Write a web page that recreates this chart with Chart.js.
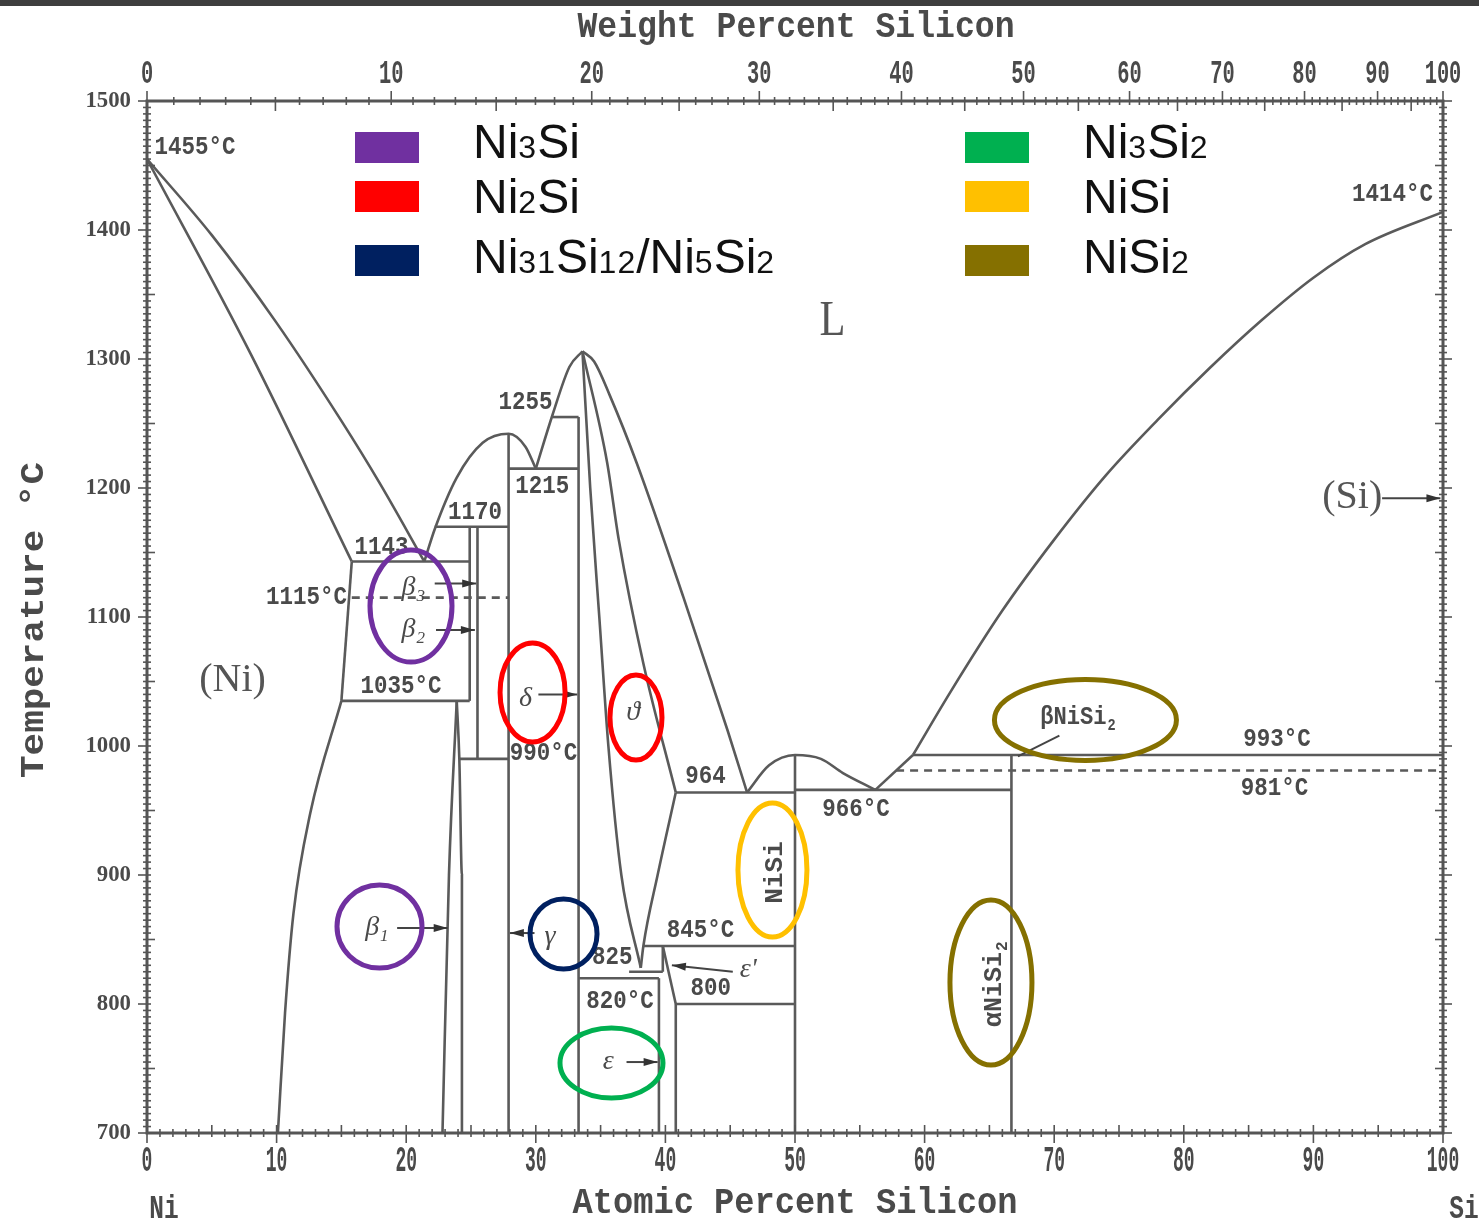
<!DOCTYPE html>
<html>
<head>
<meta charset="utf-8">
<title>Ni-Si phase diagram</title>
<script src="https://cdn.jsdelivr.net/npm/chart.js@4.4.1/dist/chart.umd.min.js"></script>
<style>
  html, body { margin: 0; padding: 0; background: #fff; }
  #wrap { width: 1479px; height: 1224px; }
</style>
</head>
<body>
<div id="wrap"><canvas id="phaseChart" width="1479" height="1224"></canvas></div>
<script>
// tick values
const AT_TICKS = [0, 10, 20, 30, 40, 50, 60, 70, 80, 90, 100];
const WT_TICKS = [0, 10, 20, 30, 40, 50, 60, 70, 80, 90, 100];
const T_TICKS = [700, 800, 900, 1000, 1100, 1200, 1300, 1400, 1500];

// phase boundaries, [at% Si, temperature C]
const liqNiSide = [[0, 1455], [5, 1396], [10, 1328], [15, 1252], [18, 1203], [21.4, 1143]];
const solNiSide = [[0, 1455], [8, 1304], [15.8, 1143]];
const solvusNiHigh = [[15.8, 1143], [15.0, 1035]];
const solvusNi = [[15.0, 1035], [12.6, 948], [11.3, 870], [10.65, 793], [10.1, 700]];
const liqGamma = [[21.4, 1143], [22.2, 1168], [23.9, 1208], [25.9, 1235], [27.9, 1242], [29.2, 1232], [30.0, 1215]];
const liqDeltaLeft = [[30.0, 1215], [31.3, 1257], [32.6, 1294], [33.6, 1306]];
const liqThetaRight = [[33.6, 1306], [34.5, 1298], [35.7, 1272], [37.8, 1219], [41.4, 1115], [44.8, 1012], [46.3, 964]];
const thetaLeft = [[33.6, 1306], [34.2, 1200], [34.9, 1100], [35.6, 1000], [36.6, 900], [38.1, 828]];
const thetaRightHigh = [[33.6, 1306], [35.5, 1220], [36.4, 1160], [38.3, 1064], [40.8, 964]];
const thetaRightLow = [[40.8, 964], [39.4, 900], [38.3, 845], [38.1, 828]];
const liqNiSi = [[46.3, 964], [48, 985], [50, 993], [52, 990], [53.7, 979], [56.2, 966]];
const liqNiSi2 = [[56.2, 966], [59.1, 993]];
const liqSi = [[59.1, 993], [62, 1042], [66, 1105], [70, 1160], [74, 1210], [78, 1253], [82, 1293], [86, 1330], [90, 1363], [94, 1389], [100, 1414]];
const beta1Left = [[22.8, 700], [23.3, 900], [23.9, 1035]];
const beta1Right = [[24.3, 700], [24.3, 900], [24.1, 990], [23.9, 1035]];
const epsPrimeEdge = [[39.8, 845], [40.8, 800]];

// isotherms [from at%, to at%, T]
const isotherms = [
  [15.8, 24.9, 1143], [22.2, 27.9, 1170], [15.0, 24.9, 1035], [24.1, 27.9, 990],
  [27.9, 33.3, 1215], [31.3, 33.3, 1255], [33.3, 39.5, 820], [37.2, 39.8, 825],
  [38.3, 50, 845], [40.8, 50, 800], [40.8, 50, 964], [50, 66.7, 966], [59.1, 100, 993]
];
const dashedIsotherms = [[15.8, 27.9, 1115], [57.8, 100, 981]];
// vertical phase lines [at%, T low, T high]
const phaseLines = [
  [24.9, 1035, 1170], [25.5, 990, 1170], [27.9, 700, 1242], [33.3, 700, 1255],
  [39.5, 700, 820], [39.8, 825, 845], [40.8, 700, 800], [50, 700, 993], [66.7, 700, 993]
];

const LEGEND_NAMES = ['Ni3Si', 'Ni2Si', 'Ni31Si12/Ni5Si2', 'Ni3Si2', 'NiSi', 'NiSi2'];
const LEGEND_COLORS = ['#7030a0', '#ff0000', '#002060', '#00b050', '#ffc000', '#857000'];

const NUM_LABELS = [
  ['1455°C', 3.7, 1464], ['1414°C', 96.1, 1427], ['1255', 29.2, 1266], ['1215', 30.5, 1201],
  ['1170', 25.3, 1181], ['1143', 18.1, 1154], ['1115°C', 12.3, 1115], ['1035°C', 19.6, 1046],
  ['990°C', 30.6, 994], ['964', 43.1, 976], ['966°C', 54.7, 951], ['993°C', 87.2, 1005],
  ['981°C', 87.0, 967], ['845°C', 42.7, 857], ['825', 35.9, 836], ['820°C', 36.5, 802], ['800', 43.5, 812]
];
const PHASE_LABELS = [
  ['β', '3', 20.5, 1123], ['β', '2', 20.5, 1090], ['β', '1', 17.7, 859], ['γ', '', 31.1, 852],
  ['δ', '', 29.2, 1037], ['ϑ', '', 37.5, 1026], ['ε', '', 35.6, 755], ["ε'", '', 46.4, 827]
];
const ARROWS = [
  [22.2, 1126, 25.4, 1126], [22.3, 1090, 25.3, 1090], [19.3, 859, 23.2, 859], [29.9, 855, 28.0, 855],
  [30.2, 1040, 33.2, 1040], [37.0, 755, 39.4, 755], [45.2, 825, 40.5, 830], [95.3, 1192, 99.8, 1192]
];
// rings: centre in data units, radii in px, colour index into legend
const RINGS = [
  [20.37, 1108.5, 41, 56, 0], [17.94, 860, 42.5, 41.5, 0], [29.75, 1041.5, 32.5, 49.5, 1],
  [37.73, 1022, 26, 42.5, 1], [32.14, 854.3, 33.5, 35, 2], [35.84, 754.3, 51.5, 35, 3],
  [48.26, 903.9, 34.5, 67, 4], [65.12, 816.7, 41, 82.5, 5], [72.41, 1020.2, 91, 40.5, 5]
];

const LINE = '#5a5a5a';
const INK = '#4a4a4a';

const wtToAt = w => { const n = w / 28.086, m = (100 - w) / 58.693; return 100 * n / (n + m); };

function curve(pts, extra) {
  return Object.assign({
    data: pts.map(p => ({ x: p[0], y: p[1] })),
    showLine: true, pointRadius: 0, borderColor: LINE, borderWidth: 2.6, tension: 0
  }, extra || {});
}
const smooth = { cubicInterpolationMode: 'monotone' };

const datasets = [
  curve(liqNiSide, smooth),
  curve(solNiSide, smooth),
  curve(solvusNiHigh),
  curve(solvusNi, smooth),
  curve(liqGamma, smooth),
  curve(liqDeltaLeft, smooth),
  curve(liqThetaRight, smooth),
  curve(thetaLeft, smooth),
  curve(thetaRightHigh, smooth),
  curve(thetaRightLow, smooth),
  curve(liqNiSi, smooth),
  curve(liqNiSi2),
  curve(liqSi, smooth),
  curve(beta1Left, smooth),
  curve(beta1Right, smooth),
  curve(epsPrimeEdge),
  ...isotherms.map(([a, b, t]) => curve([[a, t], [b, t]])),
  ...dashedIsotherms.map(([a, b, t]) => curve([[a, t], [b, t]], { borderDash: [8, 6] })),
  ...phaseLines.map(([x, lo, hi]) => curve([[x, lo], [x, hi]]))
];

function text(ctx, s, x, y, font, opt) {
  opt = opt || {};
  ctx.save();
  ctx.translate(x, y);
  if (opt.rot) ctx.rotate(opt.rot);
  ctx.font = font;
  let sx = opt.sx || 1;
  if (opt.width) sx = opt.width / ctx.measureText(s).width;
  ctx.scale(sx, 1);
  ctx.fillStyle = opt.color || INK;
  ctx.textAlign = opt.align || 'center';
  ctx.textBaseline = opt.base || 'middle';
  ctx.fillText(s, 0, 0);
  ctx.restore();
}

// text with a lowered subscript, centred on x,y
function subText(ctx, main, sub, x, y, font, subFont, drop, opt) {
  opt = opt || {};
  ctx.save();
  ctx.translate(x, y);
  if (opt.rot) ctx.rotate(opt.rot);
  ctx.scale(opt.sx || 1, 1);
  ctx.fillStyle = INK;
  ctx.textBaseline = 'middle';
  ctx.textAlign = 'left';
  ctx.font = font;
  const w1 = ctx.measureText(main).width;
  ctx.font = subFont;
  const w2 = sub ? ctx.measureText(sub).width : 0;
  const x0 = -(w1 + w2) / 2;
  ctx.font = font;
  ctx.fillText(main, x0, 0);
  if (sub) { ctx.font = subFont; ctx.fillText(sub, x0 + w1 + 1, drop); }
  ctx.restore();
}

// legend names: digits drawn smaller on the same baseline
function chemName(ctx, s, x, y) {
  ctx.save();
  ctx.fillStyle = '#111';
  ctx.textBaseline = 'alphabetic';
  ctx.textAlign = 'left';
  let cx = x;
  for (const ch of s) {
    ctx.font = /[0-9]/.test(ch) ? '32px "Liberation Sans"' : '48px "Liberation Sans"';
    ctx.fillText(ch, cx, y);
    cx += ctx.measureText(ch).width + (/[0-9]/.test(ch) ? 1 : 0);
  }
  ctx.restore();
}

function seg(ctx, x1, y1, x2, y2) {
  ctx.beginPath(); ctx.moveTo(x1, y1); ctx.lineTo(x2, y2); ctx.stroke();
}

const diagramPlugin = {
  id: 'diagram',
  afterDraw(chart) {
    const ctx = chart.ctx, ca = chart.chartArea;
    const xs = chart.scales.x, ys = chart.scales.y, x2 = chart.scales.x2;
    const X = v => xs.getPixelForValue(v), Y = v => ys.getPixelForValue(v);

    ctx.save();
    ctx.fillStyle = '#3e3e3e';
    ctx.fillRect(0, 0, 1479, 6);

    // frame and ticks
    ctx.strokeStyle = '#555';
    ctx.lineWidth = 3;
    ctx.strokeRect(ca.left, ca.top, ca.right - ca.left, ca.bottom - ca.top);
    ctx.lineWidth = 1.6;
    for (let a = 0; a <= 100; a++) {
      const px = X(a);
      if (a % 10 === 0) seg(ctx, px, ca.bottom - 8, px, ca.bottom + 10);
      else if (a % 5 === 0) seg(ctx, px, ca.bottom - 8, px, ca.bottom + 4);
      else seg(ctx, px, ca.bottom - 4, px, ca.bottom + 4);
    }
    for (let w = 0; w <= 100; w++) {
      const px = X(wtToAt(w));
      if (w % 10 === 0) seg(ctx, px, ca.top - 10, px, ca.top + 4);
      else if (w % 5 === 0) seg(ctx, px, ca.top - 4, px, ca.top + 10);
      else seg(ctx, px, ca.top - 4, px, ca.top + 4);
    }
    for (let t = 700; t <= 1500; t += 5) {
      const py = Y(t);
      if (t % 100 === 0) {
        seg(ctx, ca.left - 9, py, ca.left + 4, py);
        seg(ctx, ca.right - 4, py, ca.right + 9, py);
      } else if (t % 50 === 0) {
        seg(ctx, ca.left - 4, py, ca.left + 8, py);
        seg(ctx, ca.right - 8, py, ca.right + 4, py);
      } else {
        seg(ctx, ca.left - 4, py, ca.left + 4, py);
        seg(ctx, ca.right - 4, py, ca.right + 4, py);
      }
    }

    // tick labels from the library's ticks
    xs.ticks.forEach(t => text(ctx, String(t.value), X(t.value), 1162, 'bold 36px "Liberation Mono"', { sx: 0.5 }));
    x2.ticks.forEach((t, i) => text(ctx, String(WT_TICKS[i]), x2.getPixelForValue(t.value), 74, 'bold 34px "Liberation Mono"', { sx: 0.6 }));
    ys.ticks.forEach(t => text(ctx, String(t.value), 131, Y(t.value), 'bold 24px "Liberation Serif"', { align: 'right', sx: 0.95 }));

    // axis titles
    text(ctx, 'Weight Percent Silicon', 796, 28, 'bold 36px "Liberation Mono"', { width: 437 });
    text(ctx, 'Atomic Percent Silicon', 795, 1204, 'bold 36px "Liberation Mono"', { width: 445 });
    text(ctx, 'Ni', 164, 1209, 'bold 34px "Liberation Mono"', { sx: 0.72 });
    text(ctx, 'Si', 1464, 1209, 'bold 34px "Liberation Mono"', { sx: 0.72 });
    text(ctx, 'Temperature °C', 34, 620, 'bold 34px "Liberation Mono"', { width: 316, rot: -Math.PI / 2 });

    // temperatures
    NUM_LABELS.forEach(([s, a, t]) => text(ctx, s, X(a), Y(t), 'bold 25px "Liberation Mono"', { sx: 0.9 }));

    // phase fields
    text(ctx, '(Ni)', X(6.6), Y(1051), '40px "Liberation Serif"', { color: '#555' });
    text(ctx, '(Si)', X(93.0), Y(1193), '40px "Liberation Serif"', { color: '#555' });
    text(ctx, 'L', X(52.9), Y(1329), '50px "Liberation Serif"', { color: '#555', sx: 0.85 });
    PHASE_LABELS.forEach(([m, s, a, t]) => subText(ctx, m, s, X(a), Y(t), 'italic 28px "Liberation Serif"', 'italic 17px "Liberation Serif"', 9));
    subText(ctx, 'βNiSi', '2', X(71.8), Y(1022), 'bold 26px "Liberation Mono"', 'bold 16px "Liberation Mono"', 8, { sx: 0.85 });
    text(ctx, 'NiSi', X(48.5), Y(902), 'bold 26px "Liberation Mono"', { rot: -Math.PI / 2 });
    subText(ctx, 'αNiSi', '2', X(65.4), Y(815), 'bold 25px "Liberation Mono"', 'bold 16px "Liberation Mono"', 8, { rot: -Math.PI / 2 });

    // arrows
    ctx.strokeStyle = '#444';
    ctx.fillStyle = '#333';
    ctx.lineWidth = 2;
    ARROWS.forEach(([a1, t1, a2, t2]) => {
      const px1 = X(a1), py1 = Y(t1), px2 = X(a2), py2 = Y(t2);
      seg(ctx, px1, py1, px2, py2);
      const ang = Math.atan2(py2 - py1, px2 - px1);
      ctx.beginPath();
      ctx.moveTo(px2, py2);
      ctx.lineTo(px2 - 14 * Math.cos(ang) + 4 * Math.sin(ang), py2 - 14 * Math.sin(ang) - 4 * Math.cos(ang));
      ctx.lineTo(px2 - 14 * Math.cos(ang) - 4 * Math.sin(ang), py2 - 14 * Math.sin(ang) + 4 * Math.cos(ang));
      ctx.closePath();
      ctx.fill();
    });
    seg(ctx, X(70.4), Y(1008), X(67.2), Y(992));

    // coloured rings
    ctx.lineWidth = 5;
    RINGS.forEach(([a, t, rx, ry, c]) => {
      ctx.strokeStyle = LEGEND_COLORS[c];
      ctx.beginPath();
      ctx.ellipse(X(a), Y(t), rx, ry, 0, 0, Math.PI * 2);
      ctx.stroke();
    });

    // legend
    const boxX = [355, 965], nameX = [473, 1083];
    const boxTop = [132, 181, 245], base = [158, 213, 273];
    LEGEND_NAMES.forEach((name, i) => {
      const col = Math.floor(i / 3), row = i % 3;
      ctx.fillStyle = LEGEND_COLORS[i];
      ctx.fillRect(boxX[col], boxTop[row], 64, 31);
      chemName(ctx, name, nameX[col], base[row]);
    });
    ctx.restore();
  }
};

new Chart(document.getElementById('phaseChart'), {
  type: 'scatter',
  data: { datasets: datasets },
  options: {
    responsive: false,
    animation: false,
    events: [],
    layout: { padding: { left: 0, right: 36, top: 0, bottom: 0 } },
    plugins: { legend: { display: false }, tooltip: { enabled: false } },
    scales: {
      x: {
        type: 'linear', position: 'bottom', min: 0, max: 100,
        afterBuildTicks: s => { s.ticks = AT_TICKS.map(v => ({ value: v })); },
        ticks: { display: false },
        grid: { display: false }, border: { display: false },
        afterFit: s => { s.height = 91; }
      },
      x2: {
        type: 'linear', position: 'top', min: 0, max: 100,
        afterBuildTicks: s => { s.ticks = WT_TICKS.map(w => ({ value: wtToAt(w) })); },
        ticks: { display: false },
        grid: { display: false }, border: { display: false },
        afterFit: s => { s.height = 101; }
      },
      y: {
        type: 'linear', position: 'left', min: 700, max: 1500,
        afterBuildTicks: s => { s.ticks = T_TICKS.map(v => ({ value: v })); },
        ticks: { display: false },
        grid: { display: false }, border: { display: false },
        afterFit: s => { s.width = 147; }
      }
    }
  },
  plugins: [diagramPlugin]
});
</script>
</body>
</html>
